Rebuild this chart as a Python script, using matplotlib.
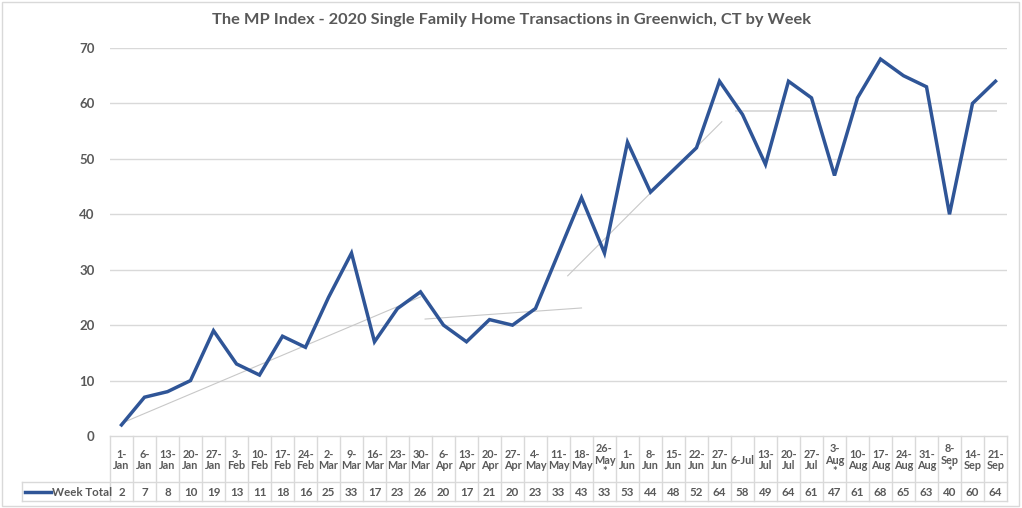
import numpy as np
import matplotlib
matplotlib.use("Agg")
import matplotlib.pyplot as plt
from matplotlib.transforms import blended_transform_factory
from matplotlib.patches import Rectangle

plt.rcParams.update({'font.family': ['Lato', 'DejaVu Sans']})

TITLE = "The MP Index - 2020 Single Family Home Transactions in Greenwich, CT by Week"
SERIES_NAME = "Week Total"

weeks = ["1-\nJan", "6-\nJan", "13-\nJan", "20-\nJan", "27-\nJan", "3-\nFeb", "10-\nFeb",
         "17-\nFeb", "24-\nFeb", "2-\nMar", "9-\nMar", "16-\nMar", "23-\nMar", "30-\nMar",
         "6-\nApr", "13-\nApr", "20-\nApr", "27-\nApr", "4-\nMay", "11-\nMay", "18-\nMay",
         "26-\nMay\n*", "1-\nJun", "8-\nJun", "15-\nJun", "22-\nJun", "27-\nJun", "6-Jul",
         "13-\nJul", "20-\nJul", "27-\nJul", "3-\nAug\n*", "10-\nAug", "17-\nAug", "24-\nAug",
         "31-\nAug", "8-\nSep\n*", "14-\nSep", "21-\nSep"]
week_total = [2, 7, 8, 10, 19, 13, 11, 18, 16, 25, 33, 17, 23, 26, 20, 17, 21, 20, 23,
              33, 43, 33, 53, 44, 48, 52, 64, 58, 49, 64, 61, 47, 61, 68, 65, 63, 40, 60, 64]

# hand drawn trend segments (x as week index, y as value)
trend_x0 = [0.0, 13.2, 19.4]
trend_y0 = [2.3, 21.1, 28.9]
trend_x1 = [13.0, 20.0, 26.1]
trend_y1 = [25.1, 23.1, 56.7]
level_x = [26.7, 38.0]
level_y = [58.7, 58.7]

yticks = [0, 10, 20, 30, 40, 50, 60, 70]

W, H = 1022, 508
fig = plt.figure(figsize=(W / 100, H / 100), dpi=100)
ax = fig.add_axes([110 / W, 1 - 436 / H, (1007 - 110) / W, (436 - 48) / H])

grey_text = '#595959'
grid_col = '#D9D9D9'
blue = '#2F5597'

n = len(week_total)
x = np.arange(n)
ax.set_xlim(-0.5, n - 0.5)
ax.set_ylim(0, 70)

for t in yticks[1:]:
    ax.axhline(t, color=grid_col, lw=1.0, zorder=0)

for a, b, c, d in zip(trend_x0, trend_y0, trend_x1, trend_y1):
    ax.plot([a, c], [b, d], color='#C8C8C8', lw=0.8, zorder=1)
ax.plot(level_x, level_y, color='#DCDCDC', lw=1.4, zorder=1)

ax.plot(x, week_total, color=blue, lw=2.5, solid_joinstyle='miter', zorder=3, clip_on=False)

for s in ax.spines.values():
    s.set_visible(False)
ax.set_xticks([])
ax.set_yticks(yticks)
ax.set_yticklabels([str(t) for t in yticks], fontsize=9.5, fontweight='bold', color=grey_text)
ax.tick_params(axis='y', length=0, pad=11)

fig.text(0.5, 1 - 20 / H, TITLE, ha='center', va='center', fontsize=11.8,
         fontweight='bold', color=grey_text)

# data table under the axis
tr = blended_transform_factory(ax.transData, fig.transFigure)
fy = lambda py: 1 - py / H
y_top, y_mid, y_bot = 436, 482, 501
tbl_col = '#D9D9D9'

ax.plot([-0.5, n - 0.5], [fy(y_top)] * 2, color=tbl_col, lw=1, transform=tr, clip_on=False)
fig.add_artist(plt.Line2D([22 / W, 1007 / W], [fy(y_mid)] * 2, color=tbl_col, lw=1))
fig.add_artist(plt.Line2D([22 / W, 1007 / W], [fy(y_bot)] * 2, color=tbl_col, lw=1))
fig.add_artist(plt.Line2D([22 / W, 22 / W], [fy(y_mid), fy(y_bot)], color=tbl_col, lw=1))
for i in range(n + 1):
    ax.plot([i - 0.5, i - 0.5], [fy(y_top), fy(y_bot)], color=tbl_col, lw=1,
            transform=tr, clip_on=False)

for i, (lab, v) in enumerate(zip(weeks, week_total)):
    ax.text(i, fy((y_top + y_mid) / 2 + 1), lab, transform=tr, ha='center', va='center',
            fontsize=7.8, fontweight='bold', color=grey_text, linespacing=1.0)
    ax.text(i, fy((y_mid + y_bot) / 2 + 0.5), str(v), transform=tr, ha='center', va='center',
            fontsize=8.3, fontweight='bold', color=grey_text)

ly = fy((y_mid + y_bot) / 2)
fig.add_artist(plt.Line2D([25 / W, 51 / W], [ly, ly], color=blue, lw=2.5))
fig.text(52 / W, fy((y_mid + y_bot) / 2 + 0.5), SERIES_NAME, ha='left', va='center',
         fontsize=8.3, fontweight='bold', color=grey_text)

fig.add_artist(Rectangle((1.5 / W, 1 - 506 / H), 1017 / W, 504 / H, transform=fig.transFigure,
                         fill=False, edgecolor='#D9D9D9', lw=1))

fig.savefig('out.png', dpi=100, facecolor='white')
